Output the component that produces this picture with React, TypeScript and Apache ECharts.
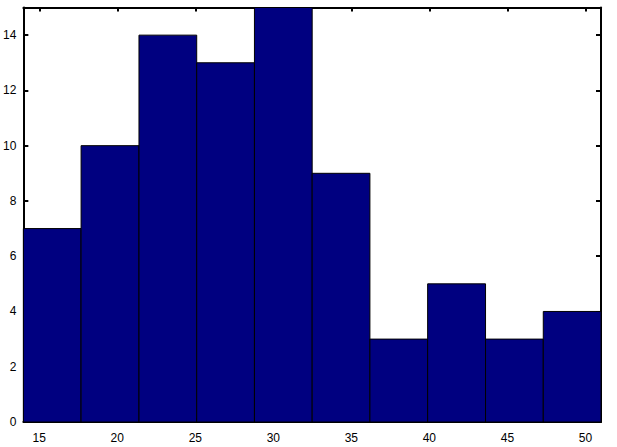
import React, { useEffect, useRef } from "react";
import * as echarts from "echarts";

const binEdges = [13.98, 17.68, 21.39, 25.09, 28.79, 32.49, 36.19, 39.89, 43.6, 47.3, 51.0];
const counts = [7, 10, 14, 13, 15, 9, 3, 5, 3, 4];
const xTicks = [15, 20, 25, 30, 35, 40, 45, 50];
const yTicks = [0, 2, 4, 6, 8, 10, 12, 14];

export default function App() {
  const ref = useRef<HTMLDivElement>(null);
  useEffect(() => {
    if (!ref.current) return;
    const chart = echarts.init(ref.current, undefined, { renderer: "svg" });
    const data = counts.map((c, i) => [binEdges[i], binEdges[i + 1], c]);
    const font = { fontFamily: "Liberation Sans", fontSize: 12, color: "#000" };
    const lineStyle = { color: "#000", width: 2 };
    chart.setOption({
      animation: false,
      backgroundColor: "#fff",
      grid: { left: 20, right: 16, top: 7.5, bottom: 25, containLabel: false },
      xAxis: [
        {
          type: "value",
          min: binEdges[0],
          max: binEdges[binEdges.length - 1],
          position: "bottom",
          axisLine: { show: true, lineStyle, onZero: false },
          axisTick: { show: true, inside: true, length: 4, customValues: xTicks, lineStyle: { color: "#000", width: 2 } },
          axisLabel: { ...font, margin: 10, customValues: xTicks },
          splitLine: { show: false },
        },
        {
          type: "value",
          min: binEdges[0],
          max: binEdges[binEdges.length - 1],
          position: "top",
          axisLine: { show: true, lineStyle, onZero: false },
          axisTick: { show: true, inside: true, length: 4, customValues: xTicks, lineStyle: { color: "#000", width: 2 } },
          axisLabel: { show: false },
          splitLine: { show: false },
        },
      ],
      yAxis: [
        {
          type: "value",
          min: 0,
          max: 15,
          position: "left",
          axisLine: { show: true, lineStyle, onZero: false },
          axisTick: { show: true, inside: true, length: 5, customValues: yTicks, lineStyle: { color: "#000", width: 2 } },
          axisLabel: { ...font, margin: 7, customValues: yTicks },
          splitLine: { show: false },
        },
        {
          type: "value",
          min: 0,
          max: 15,
          position: "right",
          axisLine: { show: true, lineStyle, onZero: false },
          axisTick: { show: true, inside: true, length: 5, customValues: yTicks, lineStyle: { color: "#000", width: 2 } },
          axisLabel: { show: false },
          splitLine: { show: false },
        },
      ],
      series: [
        {
          type: "custom",
          xAxisIndex: 0,
          yAxisIndex: 0,
          data,
          renderItem: (params: any, api: any) => {
            const p0 = api.coord([api.value(0), api.value(2)]);
            const p1 = api.coord([api.value(1), 0]);
            return {
              type: "rect",
              shape: { x: p0[0], y: p0[1], width: p1[0] - p0[0], height: p1[1] - p0[1] },
              style: { fill: "#000080", stroke: "#000", lineWidth: 1 },
            };
          },
        },
      ],
    });
    return () => chart.dispose();
  }, []);
  return <div ref={ref} style={{ width: 617, height: 447, position: "fixed", left: 0, top: 0 }} />;
}
